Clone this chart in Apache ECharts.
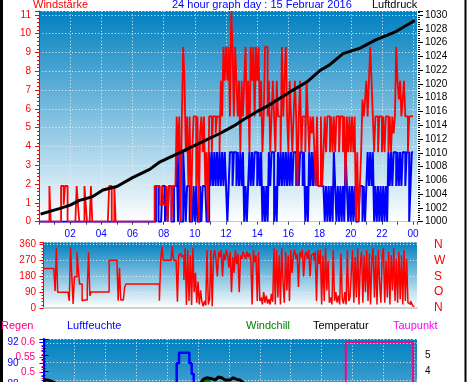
<!DOCTYPE html>
<html><head><meta charset="utf-8">
<script src="https://cdn.jsdelivr.net/npm/echarts@6/dist/echarts.min.js"></script>
<style>html,body{margin:0;padding:0;background:#fff;overflow:hidden;width:470px;height:382px}#c{width:470px;height:640px}</style>
</head><body><div id="c"></div>
<script>
// ---------- DATA ----------
const xLabels = ['02','04','06','08','10','12','14','16','18','20','22','00'];
const dirLabels = ['N','O','S','W','N']; // 0,90,180,270,360 from bottom
// Wind gust (red), 5-minute samples, one row per hour
const gust = [
0,0,0,0,0,0,0,0,1.9,0,0,0,
0,0,0,0,0,1.9,1.9,0.9,1.9,1.9,0,0,
0,0,0,0,0,1.9,0.9,0,0,0,0,1.9,
0.9,0,0,0,1.9,0,0,0,0,0,0,0,
0,0,0,0,0,0,1.9,1.9,0,0,1.9,0,
0,0,0,0,0,0,0,0,0,0,0,0,
0,0,0,0,0,0,0,0,0,0,0,0,
0,0,0,0,0,1.9,1.9,1.9,1.9,0.9,0.9,1.9,
0.9,0.9,1.9,0,1.9,1.9,0,1.9,1.9,1.9,5.6,3.7,
5.6,0,5.6,9.3,7.5,3.7,5.6,1.9,5.6,0,3.7,5.6,
5.6,1.9,5.6,0,4.7,5.6,3.7,5.6,1.9,3.7,0,5.6,
5.6,3.7,5.6,5.6,4.7,5.6,5.6,3.7,7.5,5.6,9.3,7.5,
9.3,7.5,9.3,5.6,11.2,9.3,5.6,9.3,7.5,5.6,7.5,3.7,
7.5,5.6,7.5,9.3,5.6,7.5,3.7,9.3,7.5,9.3,5.6,9.3,
7.5,9.3,5.6,7.5,3.7,5.6,9.3,9.3,5.6,7.5,3.7,5.6,
7.5,5.6,3.7,7.5,5.6,5.6,3.7,9.3,5.6,7.5,9.3,5.6,
3.7,7.5,5.6,3.7,5.6,7.5,5.6,1.9,5.6,7.5,3.7,5.6,
5.6,3.7,7.5,5.6,3.7,5.6,4.7,5.6,3.7,1.9,5.6,1.9,
1.9,5.6,1.9,3.7,5.6,3.7,5.6,5.6,3.7,5.6,3.7,5.6,
3.7,5.6,5.6,3.7,5.6,5.6,3.7,5.6,1.9,5.6,3.7,5.6,
3.7,5.6,3.7,5.6,0,3.7,0,1.9,3.7,6.5,5.6,6.5,
7.5,5.6,7.5,9.3,7.5,5.6,3.7,5.6,5.6,3.7,5.6,5.6,
3.7,5.6,3.7,5.6,5.6,3.7,5.6,3.7,5.6,4.7,5.6,9.3,
7.5,6.5,7.5,5.6,6.5,7.5,5.6,5.6,3.7,5.6,5.6,5.6
];
// Mean wind (blue), 5-minute samples
const mean = [
0,0,0,0,0,0,0,0,0,0,0,0,
0,0,0,0,0,0,0,0,0,0,0,0,
0,0,0,0,0,0,0,0,0,0,0,0,
0,0,0,0,0,0,0,0,0,0,0,0,
0,0,0,0,0,0,0,0,0,0,0,0,
0,0,0,0,0,0,0,0,0,0,0,0,
0,0,0,0,0,0,0,0,0,0,0,0,
0,0,0,0,0,0,1.9,1.9,0,0,0,1.9,
1.9,0,1.9,0,1.9,1.9,0,0,1.9,1.9,3.7,0,
3.7,0,0,3.7,1.9,0,1.9,1.9,0,0,0,1.9,
0,1.9,0,0,1.9,0,1.9,1.9,1.9,0,0,3.7,
1.9,3.7,1.9,3.7,1.9,3.7,1.9,3.7,1.9,3.7,1.9,3.7,
1.9,0,1.9,3.7,3.7,1.9,3.7,3.7,1.9,3.7,1.9,3.7,
1.9,3.7,0,1.9,0,1.9,3.7,1.9,3.7,1.9,3.7,3.7,
1.9,3.7,1.9,3.7,0,1.9,0,1.9,0,3.7,1.9,3.7,
3.7,0,1.9,0,3.7,1.9,3.7,1.9,3.7,1.9,3.7,1.9,
3.7,1.9,3.7,1.9,3.7,3.7,1.9,3.7,1.9,3.7,3.7,1.9,
3.7,0,1.9,0,3.7,1.9,3.7,1.9,3.7,1.9,3.7,1.9,
1.9,1.9,1.9,1.9,0,1.9,0,1.9,0,1.9,0,3.7,
1.9,0,1.9,0,1.9,0,1.9,0,3.7,1.9,0,1.9,
0,1.9,0,1.9,0,0,0,1.9,1.9,0,1.9,0,
1.9,3.7,1.9,3.7,1.9,3.7,0,1.9,0,1.9,0,1.9,
0,1.9,0,1.9,0,3.7,1.9,3.7,1.9,3.7,3.7,1.9,
3.7,1.9,3.7,1.9,3.7,3.7,1.9,3.7,3.7,0,1.9,3.7
];
// Wind direction (degrees), 5-minute samples
const direction = [
225,225,225,225,225,225,225,225,225,97,340,89,
90,90,90,90,90,90,90,90,41,345,178,23,
178,178,318,225,136,136,41,45,45,45,112,317,
70,91,91,91,91,91,91,91,91,91,91,91,
91,91,91,271,271,271,271,271,271,271,41,229,
45,45,45,118,137,137,137,137,137,137,137,137,
137,137,137,137,137,137,137,137,137,137,137,137,
137,137,137,137,137,137,41,274,349,271,271,271,
271,271,271,271,349,271,271,271,35,300,310,290,
300,159,340,17,330,40,300,17,340,90,200,30,
150,20,100,35,10,40,15,330,20,50,330,10,
300,330,270,180,320,290,330,180,310,270,330,300,
230,320,90,290,200,330,250,310,90,300,280,320,
300,280,320,290,310,280,20,330,260,300,40,320,
40,60,20,90,30,70,25,50,20,80,35,340,
20,330,60,300,20,340,150,30,320,100,300,40,
330,200,300,330,280,310,120,320,290,330,180,300,
320,280,330,180,300,310,270,320,40,330,250,330,
20,300,40,340,100,270,30,60,20,330,40,90,
30,70,20,310,50,25,90,20,330,40,60,200,
330,30,290,60,340,20,250,320,30,300,90,330,
40,310,20,280,340,60,300,20,330,150,30,300,
340,30,270,60,320,20,300,100,340,40,280,30,
320,50,300,20,330,40,280,30,20,40,25,10
];
// Air pressure (hPa)
const pressTimes  = [0.1,1.3,2.0,2.6,3.4,4.1,5.0,6.0,7.1,7.7,9.0,10.3,11.6,12.5,13.1,14.0,14.6,16.3,17.2,18.0,18.6,19.5,20.6,21.6,22.9,23.8,24.1];
const pressValues = [1001.1,1001.9,1002.4,1003.1,1003.6,1004.6,1005.1,1006.4,1007.6,1008.6,1010.0,1011.4,1012.8,1013.9,1014.8,1016.0,1016.7,1019.1,1020.3,1021.9,1022.7,1024.4,1025.2,1026.4,1027.6,1028.8,1029.2];
// Bottom panel
const rainTimes = [0,19.56,23.92,24.2];
const rainValues = [0,0.6,0,0];
const humTimes = [0,4,8.0,8.62,8.77,9.44,9.59,9.72,11,16,24];
const humValues = [86,85,87,90,91,90,89,87,85,82,80];
const tempTimes = [0,0.3,0.6,1.0,4,8,9.5,10.1,10.24,10.34,10.56,10.89,11.1,11.31,11.53,11.75,12.07,12.28,12.5,12.72,13.0,16,20,24];
const tempValues = [3.5,3.5,3.4,3.2,2.8,2.9,3.1,3.3,3.4,3.54,3.64,3.58,3.5,3.68,3.64,3.5,3.5,3.64,3.54,3.5,3.3,3.0,2.5,2.0];
const chillTimes = [0,8,10.2,10.4,10.7,10.9,13,24];
const chillValues = [2.5,2.6,3.0,3.45,3.45,3.0,2.8,1.5];
const dewTimes = [0,12,24];
const dewValues = [1.8,2.0,1.6];

// ---------- BUILD ----------
function sampled(arr){ const d = arr.map((v,i)=>[i/12, v]); d.push([24, arr[arr.length-1]]); return d; }
function pairs(t, v){ return t.map((x,i)=>[x, v[i]]); }
const FONT = '"Liberation Sans", Arial, sans-serif';
const grad = () => new echarts.graphic.LinearGradient(0,0,0,1,[{offset:0,color:'#0080c0'},{offset:1,color:'#ffffff'}]);
const dotted = {color:'#f0f0f0', width:1, type:[1,2.3]};
const RED='#ff0000', BLUE='#0000ff', PINK='#ff0080';
const hiddenX = (g, max) => ({gridIndex:g, type:'value', min:0, max:max, show:false});
const plain = v => String(+v.toFixed(2));

const chart = echarts.init(document.getElementById('c'), null, {renderer:'canvas', width:470, height:640});
chart.setOption({
  animation:false,
  backgroundColor:'#ffffff',
  textStyle:{fontFamily:FONT},
  grid:[
    {left:39, top:11, width:378, height:210.7, show:true, backgroundColor:grad(), borderWidth:0},
    {left:43.5, top:242.3, width:373.5, height:65.7, show:true, backgroundColor:grad(), borderWidth:0},
    {left:43.5, top:339, width:373.5, height:186.6, show:true, backgroundColor:grad(), borderWidth:0},
    {left:43.5, top:339, width:373.5, height:237.7, show:false},
    {left:43.5, top:339, width:373.5, height:99.5, show:false},
    {left:43.5, top:339, width:373.5, height:78.9, show:false}
  ],
  xAxis:[
    {gridIndex:0, type:'value', min:0, max:24.25, interval:2,
     axisLine:{show:true, lineStyle:{color:'#c0c8d0', width:1}},
     axisTick:{show:true, length:3, lineStyle:{color:'#404060'}},
     minorTick:{show:true, splitNumber:2, length:3, lineStyle:{color:'#404060'}},
     axisLabel:{color:BLUE, fontSize:10, fontFamily:FONT, margin:8, showMinLabel:false, showMaxLabel:false,
       formatter:v => v>0 ? xLabels[Math.round(v/2)-1] : ''},
     splitLine:{show:true, lineStyle:dotted}},
    {gridIndex:1, type:'value', min:0, max:24.17, axisLine:{show:true, lineStyle:{color:'#d0d0d0', width:2}},
     axisTick:{show:false}, axisLabel:{show:false}, splitLine:{show:false}},
    hiddenX(2,24.17), hiddenX(3,24.17), hiddenX(4,24.17),
    {gridIndex:5, type:'value', min:0, max:24.17, interval:2, axisLine:{show:false}, axisTick:{show:false},
     axisLabel:{show:false}, splitLine:{show:true, lineStyle:dotted}}
  ],
  yAxis:[
    {gridIndex:0, type:'value', min:0, max:11.21, interval:1, offset:2,
     axisLine:{show:true, lineStyle:{color:RED, width:1}},
     axisTick:{show:true, length:4, lineStyle:{color:RED}},
     minorTick:{show:true, splitNumber:5, length:2, lineStyle:{color:RED}},
     axisLabel:{color:RED, fontSize:10, fontFamily:FONT, margin:6, showMaxLabel:false, formatter:plain},
     splitLine:{show:true, lineStyle:dotted}},
    {gridIndex:0, type:'value', position:'right', min:1000, max:1030.58, interval:2, offset:1,
     axisLine:{show:false},
     axisTick:{show:true, length:5, lineStyle:{color:'#000'}},
     minorTick:{show:true, splitNumber:6, length:2, lineStyle:{color:'#000'}},
     axisLabel:{color:'#000', fontSize:10, fontFamily:FONT, margin:7, showMaxLabel:false, formatter:plain},
     splitLine:{show:false}},
    {gridIndex:1, type:'value', min:0, max:373.6, interval:90, offset:1.5,
     axisLine:{show:true, lineStyle:{color:RED}},
     axisTick:{show:true, length:4, lineStyle:{color:RED}},
     minorTick:{show:true, splitNumber:5, length:2, lineStyle:{color:RED}},
     axisLabel:{color:RED, fontSize:10, fontFamily:FONT, margin:6, showMaxLabel:false, formatter:plain},
     splitLine:{show:true, lineStyle:dotted}},
    {gridIndex:1, type:'value', position:'right', min:0, max:373.6, interval:90,
     axisLine:{show:false}, axisTick:{show:false}, splitLine:{show:false},
     axisLabel:{color:RED, fontSize:12, fontFamily:FONT, margin:17, showMaxLabel:false,
       formatter:v => dirLabels[Math.round(v/90)]}},
    {gridIndex:2, type:'value', min:0, max:0.6098, interval:0.05, offset:1.5,
     axisLine:{show:true, lineStyle:{color:PINK}},
     axisTick:{show:true, length:4, lineStyle:{color:PINK}},
     minorTick:{show:true, splitNumber:5, length:2, lineStyle:{color:PINK}},
     axisLabel:{color:PINK, fontSize:10, fontFamily:FONT, margin:7, showMaxLabel:false, formatter:plain},
     splitLine:{show:false}},
    {gridIndex:3, type:'value', min:70, max:92.28, interval:2, offset:22,
     axisLine:{show:true, lineStyle:{color:BLUE, width:2}},
     axisTick:{show:true, length:4, lineStyle:{color:BLUE}},
     minorTick:{show:true, splitNumber:5, length:2, lineStyle:{color:BLUE}},
     axisLabel:{color:BLUE, fontSize:10, fontFamily:FONT, margin:3, showMaxLabel:false, formatter:plain},
     splitLine:{show:false}},
    {gridIndex:4, type:'value', position:'right', min:0, max:5.96, interval:1, offset:1,
     axisLine:{show:false},
     axisTick:{show:true, length:5, lineStyle:{color:'#000'}},
     minorTick:{show:true, splitNumber:5, length:2, lineStyle:{color:'#000'}},
     axisLabel:{color:'#000', fontSize:10, fontFamily:FONT, margin:7, showMaxLabel:false, formatter:plain},
     splitLine:{show:false}},
    {gridIndex:5, type:'value', min:0, max:4.242, interval:1, show:true,
     axisLine:{show:false}, axisTick:{show:false}, axisLabel:{show:false},
     splitLine:{show:true, lineStyle:dotted}}
  ],
  series:[
    {name:'mean', type:'line', xAxisIndex:0, yAxisIndex:0, step:'end', symbol:'none', z:2,
     lineStyle:{color:BLUE, width:2}, data:sampled(mean)},
    {name:'gust', type:'line', xAxisIndex:0, yAxisIndex:0, step:'end', symbol:'none', z:3,
     lineStyle:{color:RED, width:1.8}, data:sampled(gust)},
    {name:'Luftdruck', type:'line', xAxisIndex:0, yAxisIndex:1, symbol:'none', z:4,
     lineStyle:{color:'#000', width:3}, data:pairs(pressTimes, pressValues)},
    {name:'dir', type:'line', xAxisIndex:1, yAxisIndex:2, step:'end', symbol:'none', z:3,
     lineStyle:{color:RED, width:1.5}, data:sampled(direction)},
    {name:'Regen', type:'line', xAxisIndex:2, yAxisIndex:4, step:'end', symbol:'none', z:3,
     lineStyle:{color:PINK, width:2}, data:pairs(rainTimes, rainValues)},
    {name:'Luftfeuchte', type:'line', xAxisIndex:3, yAxisIndex:5, step:'end', symbol:'none', z:3,
     lineStyle:{color:BLUE, width:2.5}, data:pairs(humTimes, humValues)},
    {name:'Taupunkt', type:'line', xAxisIndex:4, yAxisIndex:6, symbol:'none', z:3,
     lineStyle:{color:'#ff00ff', width:2}, data:pairs(dewTimes, dewValues)},
    {name:'Windchill', type:'line', xAxisIndex:4, yAxisIndex:6, symbol:'none', z:3,
     lineStyle:{color:'#008000', width:3}, data:pairs(chillTimes, chillValues)},
    {name:'Temperatur', type:'line', xAxisIndex:4, yAxisIndex:6, symbol:'none', z:4,
     lineStyle:{color:'#000', width:3}, data:pairs(tempTimes, tempValues)}
  ],
  graphic:[
    {type:'rect', shape:{x:0,y:0,width:3,height:640}, style:{fill:'#000'}},
    {type:'rect', shape:{x:464.5,y:0,width:2,height:640}, style:{fill:'#000'}},
    {type:'text', left:33, top:-1, style:{text:'Windstärke', fill:RED, font:'11px '+FONT}},
    {type:'text', left:172, top:-1, style:{text:'24 hour graph day : 15 Februar 2016', fill:BLUE, font:'11px '+FONT}},
    {type:'text', left:372, top:-1, style:{text:'Luftdruck', fill:'#000', font:'11px '+FONT}},
    {type:'text', left:1, top:320, style:{text:'Regen', fill:PINK, font:'11px '+FONT}},
    {type:'text', left:67, top:320, style:{text:'Luftfeuchte', fill:BLUE, font:'11px '+FONT}},
    {type:'text', left:246, top:320, style:{text:'Windchill', fill:'#008000', font:'11px '+FONT}},
    {type:'text', left:313, top:320, style:{text:'Temperatur', fill:'#000', font:'11px '+FONT}},
    {type:'text', left:393, top:320, style:{text:'Taupunkt', fill:'#ff00ff', font:'11px '+FONT}}
  ]
});
</script></body></html>
